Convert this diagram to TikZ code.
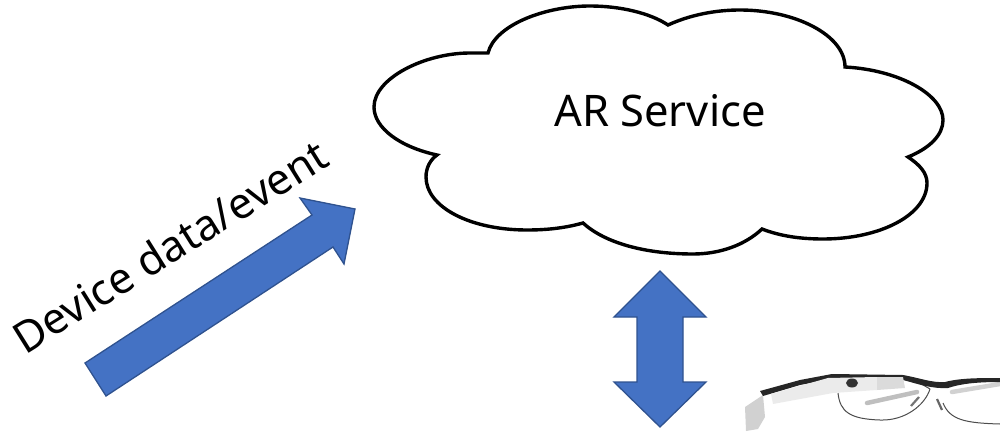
\documentclass[tikz,border=0pt]{standalone}
\usepackage{fontspec}
\setmainfont{Noto Sans}
\definecolor{arrowfill}{HTML}{4472C4}
\definecolor{arrowedge}{HTML}{2F528F}
\tikzset{
  bigarrow/.style={fill=arrowfill,draw=arrowedge,line width=1.3pt,line join=miter},
  cloudshape/.style={draw=black,fill=white,line width=3.4pt,line join=miter},
  labeltext/.style={inner sep=0pt,text=black,font=\fontsize{43.5}{50}\selectfont},
  lens/.style={draw=black!70,line width=1pt},
  prism/.style={draw=black!25,line width=4.5pt,line cap=round}
}
\begin{document}
\begin{tikzpicture}[x=1pt,y=-1pt]
\useasboundingbox (0,0) rectangle (1000,433);
% cloud
\path[cloudshape] (488,53)
  .. controls (495,25) and (545,6) .. (590,6)
  .. controls (620,6) and (650,13) .. (668,25)
  .. controls (690,15) and (715,10) .. (740,10)
  .. controls (795,10) and (845,35) .. (845,67)
  .. controls (900,70) and (943,95) .. (943,120)
  .. controls (943,135) and (930,148) .. (908,157)
  .. controls (920,165) and (927,173) .. (927,183)
  .. controls (927,215) and (880,239) .. (823,239)
  .. controls (800,239) and (780,236) .. (762,229)
  .. controls (745,245) and (720,254) .. (693,254)
  .. controls (645,254) and (605,243) .. (583,223)
  .. controls (565,228) and (547,230) .. (527,230)
  .. controls (470,230) and (426,207) .. (426,177)
  .. controls (426,168) and (430,160) .. (437,155)
  .. controls (400,147) and (374,128) .. (374,107)
  .. controls (374,78) and (425,53) .. (470,53)
  -- cycle;
\node[labeltext] (service) at (660,111) {AR Service};
% diagonal arrow
\path[bigarrow] (85,363) -- (312,215) -- (300,198) -- (355,209) -- (344,264) -- (333,247) -- (106,396) -- cycle;
\node[labeltext,rotate=32,font=\fontsize{43}{50}\selectfont] (device) at (170,246) {Device data/event};
% double arrow
\path[bigarrow] (660,271) -- (706,317) -- (683,317) -- (683,382) -- (706,382) -- (660,427) -- (614,382) -- (637,382) -- (637,317) -- (614,317) -- cycle;
% glasses: ear piece
\fill[black!18] (763,395) -- (745,407) -- (746,431) -- (758,429) -- (765,417) -- cycle;
% lenses
\draw[lens] (838,393) .. controls (840,412) and (850,419) .. (880,420) .. controls (905,421) and (925,405) .. (930,389);
\draw[lens] (905,378) .. controls (915,380) and (925,386) .. (930,389);
\draw[lens] (943,403) .. controls (950,420) and (965,423) .. (1000,424);
\draw[prism] (867,403) -- (917,392);
\draw[prism,draw=black!18] (952,392) -- (1000,384);
\draw[black!55,line width=2.2pt] (911,406) -- (919,397);
\draw[black!60,line width=2.2pt] (937,399) -- (942,410);
% frame band
\fill[black!85] (760,391) -- (800,380) -- (832,374) -- (903,375) .. controls (920,378) and (932,383) .. (945,382) .. controls (960,378) and (980,378) .. (1000,378) -- (1000,382) .. controls (975,382) and (960,384) .. (948,388) .. controls (932,389) and (918,384) .. (903,380) -- (832,379) -- (800,385) -- (763,396) -- cycle;
% side module
\fill[black!8] (771,394) -- (828,378) -- (877,377) -- (877,390) -- (833,393) -- (773,404) -- cycle;
\fill[black!14] (877,377) -- (903,377) -- (905,388) -- (877,390) -- cycle;
\fill[black!80] (852,383) circle[x radius=6pt,y radius=4.5pt];
\end{tikzpicture}
\end{document}
